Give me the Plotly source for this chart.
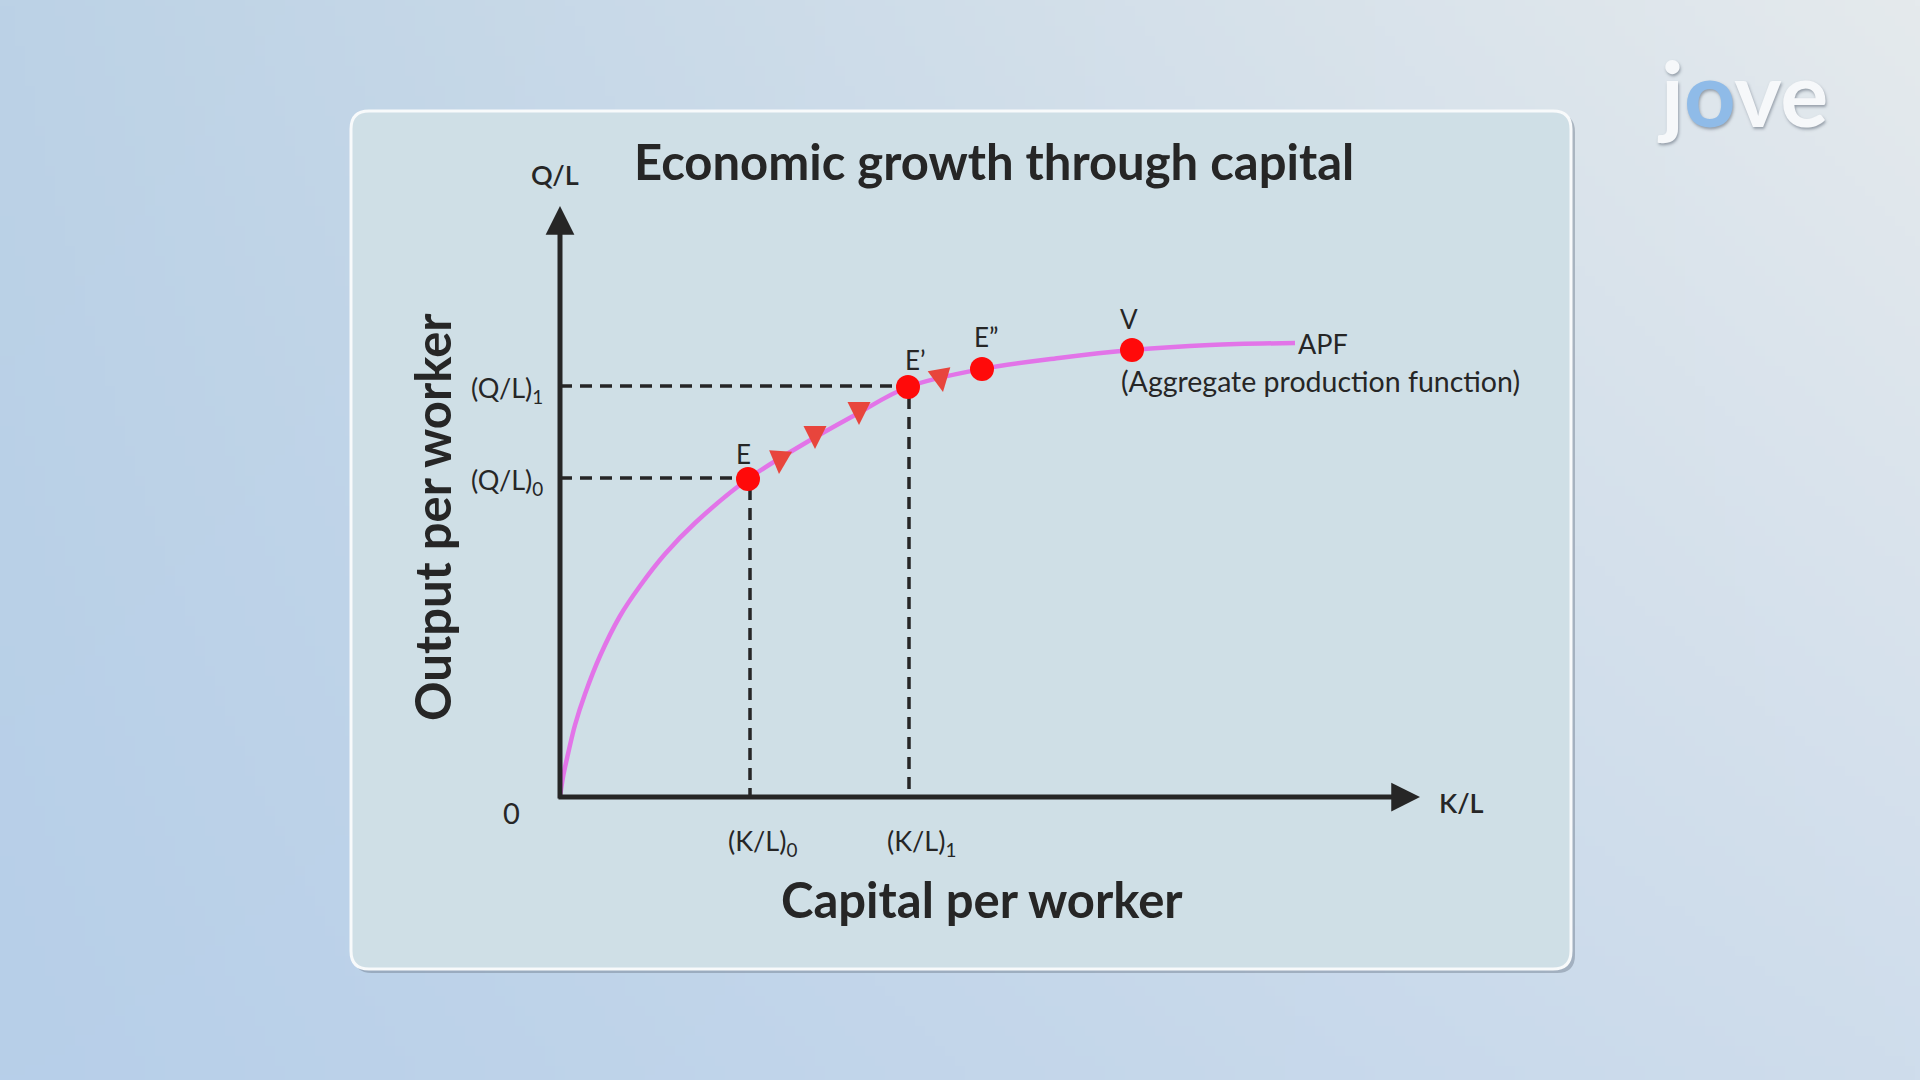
import base64, struct, zlib
import numpy as np
import plotly.graph_objects as go

# ---------------- data ----------------
apf_k = [0, 0.03, 0.08, 0.15, 0.25, 0.4, 0.6, 0.8, 1.05, 1.35, 1.88, 2.42, 2.95, 3.48, 4.22, 4.99, 5.72, 6.5, 7.35]
apf_q = [0, 0.20, 0.43, 0.72, 1.03, 1.41, 1.81, 2.11, 2.43, 2.74, 3.18, 3.52, 3.82, 4.10, 4.28, 4.39, 4.47, 4.52, 4.54]

pt_names = ["E", "E\u2019", "E\u201d", "V"]
pt_k = [1.88, 3.48, 4.22, 5.72]
pt_q = [3.18, 4.10, 4.28, 4.47]

# arrowhead tips along the path from E to E''
arrow_k = [2.19, 2.55, 2.99, 3.83]
arrow_q = [3.23, 3.48, 3.72, 4.05]
arrow_angle = [4, 0, 0, -10]

kl_ticks = [1.90, 3.49]
ql_ticks = [3.19, 4.11]
kl_labels = ["(K/L)<sub>0</sub>", "(K/L)<sub>1</sub>"]
ql_labels = ["(Q/L)<sub>0</sub>", "(Q/L)<sub>1</sub>"]

# ---------------- helpers (layout) ----------------
OX, OY, S = 560, 797, 100.0  # origin pixel, px per unit
def dx(px): return (px - OX) / S
def dy(py): return (OY - py) / S

def rrect(x0, y0, x1, y1, r):
    p = [
        f"M {dx(x0+r)},{dy(y0)}", f"L {dx(x1-r)},{dy(y0)}", f"Q {dx(x1)},{dy(y0)} {dx(x1)},{dy(y0+r)}",
        f"L {dx(x1)},{dy(y1-r)}", f"Q {dx(x1)},{dy(y1)} {dx(x1-r)},{dy(y1)}",
        f"L {dx(x0+r)},{dy(y1)}", f"Q {dx(x0)},{dy(y1)} {dx(x0)},{dy(y1-r)}",
        f"L {dx(x0)},{dy(y0+r)}", f"Q {dx(x0)},{dy(y0)} {dx(x0+r)},{dy(y0)}", "Z"]
    return " ".join(p)

def png_uri(arr):
    h, w, _ = arr.shape
    raw = b"".join(b"\x00" + arr[i].astype(np.uint8).tobytes() for i in range(h))
    def chunk(t, d):
        c = struct.pack(">I", len(d)) + t + d
        return c + struct.pack(">I", zlib.crc32(t + d) & 0xffffffff)
    png = b"\x89PNG\r\n\x1a\n" + chunk(b"IHDR", struct.pack(">IIBBBBB", w, h, 8, 2, 0, 0, 0)) \
        + chunk(b"IDAT", zlib.compress(raw, 9)) + chunk(b"IEND", b"")
    return "data:image/png;base64," + base64.b64encode(png).decode()

# background gradient
W, H = 192, 108
tl = np.array([188, 210, 230]); tr = np.array([229, 234, 237])
bl = np.array([183, 207, 233]); br = np.array([207, 221, 236])
u = np.linspace(0, 1, W)[None, :, None]; v = np.linspace(0, 1, H)[:, None, None]
grad = (1-u)*(1-v)*tl + u*(1-v)*tr + (1-u)*v*bl + u*v*br
bg_uri = png_uri(np.clip(grad, 0, 255))

FONT = "Lato"
DARK = "#262626"

fig = go.Figure()

# dashed guides
for k, q in zip(kl_ticks, ql_ticks):
    fig.add_trace(go.Scatter(x=[0, k, k], y=[q, q, 0], mode="lines",
                             line=dict(color=DARK, width=3.5, dash="12px,8px"),
                             hoverinfo="skip", showlegend=False))

# APF curve
fig.add_trace(go.Scatter(x=apf_k, y=apf_q, mode="lines",
                         line=dict(color="#e274e8", width=4.5, shape="spline", smoothing=1.0),
                         hoverinfo="skip", showlegend=False))

# direction arrows
fig.add_trace(go.Scatter(x=arrow_k, y=arrow_q, mode="markers",
                         marker=dict(symbol="arrow-down", size=23, color="#e8453c",
                                     angle=arrow_angle, line=dict(width=0)),
                         hoverinfo="skip", showlegend=False))

# equilibrium points
fig.add_trace(go.Scatter(x=pt_k, y=pt_q, mode="markers",
                         marker=dict(size=24, color="#ff0a0a", line=dict(width=0)),
                         hoverinfo="skip", showlegend=False))

ann = []
# axes with arrows
ann.append(dict(x=0, y=dy(206), ax=0, ay=-0.03, xref="x", yref="y", axref="x", ayref="y",
                showarrow=True, arrowhead=2, arrowsize=1.15, arrowwidth=5, arrowcolor=DARK, text=""))
ann.append(dict(x=dx(1420), y=0, ax=-0.03, ay=0, xref="x", yref="y", axref="x", ayref="y",
                showarrow=True, arrowhead=2, arrowsize=1.15, arrowwidth=5, arrowcolor=DARK, text=""))

# point labels
lab_off = [(-0.05, 0.25), (0.07, 0.27), (0.04, 0.32), (-0.03, 0.31)]
for n, k, q, (ox, oy) in zip(pt_names, pt_k, pt_q, lab_off):
    ann.append(dict(x=k + ox, y=q + oy, text=n, showarrow=False,
                    font=dict(family=FONT, size=26, color=DARK)))

# APF labels
ann.append(dict(x=apf_k[-1] + 0.01, y=apf_q[-1], text="APF", showarrow=False, xanchor="left",
                font=dict(family=FONT, size=27, color=DARK)))
ann.append(dict(x=dx(1119), y=dy(381), text="(Aggregate production function)", showarrow=False,
                xanchor="left", font=dict(family=FONT, size=28.5, color=DARK)))

# tick labels
for k, t in zip(kl_ticks, kl_labels):
    ann.append(dict(x=k + 0.12, y=dy(842), text=t, showarrow=False,
                    font=dict(family=FONT, size=27, color=DARK)))
for q, t in zip(ql_ticks, ql_labels):
    ann.append(dict(x=dx(545), y=q - 0.03, text=t, showarrow=False, xanchor="right",
                    font=dict(family=FONT, size=27, color=DARK)))
ann.append(dict(x=dx(511), y=dy(812), text="0", showarrow=False,
                font=dict(family=FONT, size=29, color=DARK)))
ann.append(dict(x=dx(555), y=dy(174), text="Q/L", showarrow=False,
                font=dict(family=FONT, size=27, color=DARK, weight=600)))
ann.append(dict(x=dx(1437), y=dy(802), text="K/L", showarrow=False, xanchor="left",
                font=dict(family=FONT, size=27, color=DARK, weight=600)))

# titles
ann.append(dict(x=dx(994), y=dy(161), text="Economic growth through capital", showarrow=False,
                font=dict(family=FONT, size=49, color=DARK, weight=700)))
ann.append(dict(x=dx(982), y=dy(899), text="Capital per worker", showarrow=False,
                font=dict(family=FONT, size=49, color=DARK, weight=700)))
ann.append(dict(x=dx(432), y=dy(517), text="Output per worker", showarrow=False, textangle=-90,
                font=dict(family=FONT, size=49, color=DARK, weight=700)))

# logo
ann.append(dict(xref="paper", yref="paper", x=1742/1920, y=1-92/1080, xanchor="center", yanchor="middle",
                text='<span style="color:#f6f8fa">j</span><span style="color:#8fbbe8">o</span><span style="color:#f6f8fa">ve</span>',
                showarrow=False,
                font=dict(family=FONT, size=90, weight=700, color="#f6f8fa",
                          shadow="1px 2px 3px rgba(90,100,115,0.55)")))

shapes = [
    dict(type="path", path=rrect(354, 114, 1575, 973, 18), xref="x", yref="y",
         fillcolor="rgba(110,125,140,0.45)", line=dict(width=0), layer="below"),
    dict(type="path", path=rrect(351, 111, 1571, 969, 18), xref="x", yref="y",
         fillcolor="#cfdfe6", line=dict(color="#f8fafb", width=3), layer="below"),
]

fig.update_layout(
    width=1920, height=1080, margin=dict(l=0, r=0, t=0, b=0),
    paper_bgcolor="#c6d8e8", plot_bgcolor="rgba(0,0,0,0)",
    xaxis=dict(range=[dx(0), dx(1920)], visible=False, fixedrange=True),
    yaxis=dict(range=[dy(1080), dy(0)], visible=False, fixedrange=True),
    images=[dict(source=bg_uri, xref="paper", yref="paper", x=0, y=1, sizex=1, sizey=1,
                 sizing="stretch", layer="below", xanchor="left", yanchor="top")],
    shapes=shapes, annotations=ann, showlegend=False,
)

fig.write_html("out.html", config={"displayModeBar": False},
               post_script="document.body.style.margin='0';document.body.style.overflow='hidden';")
